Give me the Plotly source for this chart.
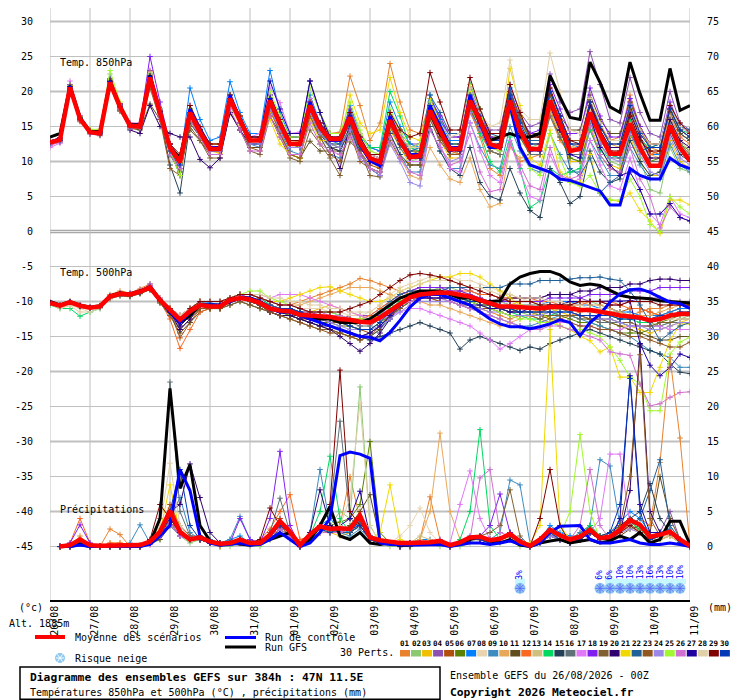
import plotly.graph_objects as go

# GEFS ensemble diagram (Meteociel style), 47N 11.5E, run 26/08/2026 00Z
# one value every 6h from +0h to +384h, precipitation starts at +6h

dates = ["26/08", "27/08", "28/08", "29/08", "30/08", "31/08", "01/09", "02/09", "03/09",
         "04/09", "05/09", "06/09", "07/09", "08/09", "09/09", "10/09", "11/09"]

member_colors = ["#e8822e", "#8cc870", "#f0c000", "#8c50b0", "#b04e0c", "#5a8200", "#0080ff",
                 "#e8d4b0", "#3c8cc0", "#e8a85a", "#604c1c", "#f86820", "#d0c080", "#00d860",
                 "#244058", "#607078", "#e078f8", "#8020f0", "#806030", "#300070", "#f0d800",
                 "#206098", "#905820", "#9c88e8", "#a0f830", "#d070d0", "#2000a0", "#e0d0a8",
                 "#800000", "#0038b8"]

snow_steps = [47, 55, 56, 57, 58, 59, 60, 61, 62, 63]
snow_pct = ["3%", "6%", "6%", "10%", "10%", "13%", "16%", "13%", "10%", "10%"]

# ---- temperature 850 hPa (deg C)
t850_mean = [12.7, 13.1, 20.6, 16.1, 14.2, 14.0, 21.3, 17.8, 15.1, 15.0, 22.0, 16.8,
             12.0, 9.9, 17.0, 14.2, 11.8, 11.8, 19.0, 15.9, 13.0, 13.0, 18.7, 15.4,
             12.5, 12.5, 18.0, 14.9, 13.2, 13.2, 16.3, 12.7, 10.5, 9.9, 15.9, 13.0,
             10.6, 10.8, 17.3, 14.4, 11.8, 11.8, 18.7, 15.9, 12.5, 12.0, 18.7, 14.4,
             11.8, 11.8, 18.7, 15.4, 11.5, 11.8, 17.0, 13.9, 11.1, 11.1, 15.4, 12.0,
             9.4, 9.4, 15.1, 12.0, 10.1]
t850_ctrl = [12.8, 13.2, 20.8, 16.2, 14.2, 14.0, 21.5, 17.8, 15.1, 15.0, 22.2, 17.0,
             12.0, 10.0, 17.5, 14.5, 12.0, 12.0, 19.5, 16.0, 13.0, 13.0, 19.0, 15.5,
             12.5, 12.5, 18.5, 15.0, 13.0, 13.0, 16.5, 12.5, 10.1, 9.4, 16.5, 13.0,
             11.0, 11.0, 18.0, 15.0, 12.0, 12.0, 19.5, 15.5, 12.0, 12.0, 18.0, 12.0,
             9.5, 9.0, 8.5, 7.5, 7.3, 6.8, 6.3, 5.8, 3.8, 3.8, 9.0, 8.0,
             7.5, 7.5, 10.5, 9.5, 9.0]
t850_gfs = [13.5, 14.0, 20.8, 16.3, 14.3, 14.2, 21.5, 17.8, 15.3, 15.2, 22.3, 17.0,
            12.0, 10.5, 17.0, 14.0, 12.0, 12.0, 19.0, 16.0, 13.0, 13.0, 19.0, 15.5,
            12.5, 12.5, 18.0, 15.0, 13.0, 13.0, 16.5, 12.5, 10.5, 10.0, 16.0, 13.0,
            10.5, 11.0, 17.0, 14.0, 12.0, 12.0, 19.0, 16.0, 13.0, 13.5, 14.0, 13.5,
            13.5, 14.0, 22.3, 19.2, 16.3, 16.0, 24.2, 21.3, 17.8, 17.0, 24.2, 19.7,
            15.9, 15.9, 23.3, 17.3, 18.0]

t850_01 = [12.8, 13.3, 20.8, 16.3, 14.0, 14.2, 21.0, 17.5, 15.3, 15.2, 22.5, 17.2,
           12.5, 10.5, 17.5, 14.5, 12.2, 12.0, 19.5, 16.0, 13.5, 13.2, 19.5, 16.0,
           13.0, 12.8, 19.0, 15.5, 14.0, 14.2, 22.2, 18.0, 13.0, 15.5, 24.0, 18.5,
           14.5, 14.0, 18.5, 14.0, 12.0, 11.0, 17.5, 13.5, 9.0, 8.0, 12.5, 10.0,
           10.5, 11.0, 16.5, 13.0, 11.0, 12.0, 17.5, 15.0, 13.0, 13.5, 19.5, 15.0,
           12.0, 11.5, 16.0, 12.5, 11.0]
t850_02 = [12.6, 13.0, 20.5, 16.0, 14.3, 14.6, 22.5, 18.0, 15.0, 14.8, 21.5, 16.5,
           11.5, 8.0, 16.5, 14.0, 11.5, 11.5, 18.5, 15.5, 12.8, 13.0, 18.0, 15.0,
           12.0, 12.0, 17.5, 14.5, 13.5, 13.5, 17.0, 13.0, 10.0, 9.5, 15.0, 12.5,
           10.0, 10.5, 17.0, 14.0, 11.0, 11.5, 19.0, 16.0, 12.5, 12.5, 19.5, 15.0,
           12.0, 12.5, 19.0, 15.5, 10.5, 10.0, 15.5, 12.5, 10.0, 9.5, 14.0, 10.5,
           6.0, 5.5, 12.0, 9.0, 8.5]
t850_03 = [12.9, 13.2, 20.7, 16.2, 14.1, 13.8, 21.2, 17.6, 15.0, 15.0, 21.8, 16.5,
           11.0, 9.0, 16.0, 13.8, 11.5, 11.2, 18.0, 15.2, 12.5, 12.5, 17.0, 14.5,
           11.0, 10.5, 16.5, 14.0, 12.5, 12.5, 15.5, 12.0, 10.0, 9.0, 14.5, 12.0,
           9.5, 9.5, 16.0, 13.0, 10.5, 10.5, 17.5, 14.5, 11.5, 11.0, 17.5, 13.5,
           11.0, 11.0, 17.5, 14.0, 10.0, 10.0, 15.0, 12.0, 9.5, 9.0, 13.5, 10.0,
           8.0, 8.0, 13.0, 10.0, 9.0]
t850_04 = [12.5, 13.0, 20.4, 16.0, 14.0, 14.0, 21.5, 18.0, 15.2, 15.2, 23.0, 17.5,
           12.5, 10.5, 17.5, 14.5, 12.0, 12.0, 19.5, 16.5, 13.5, 13.5, 19.0, 16.0,
           13.0, 13.0, 18.5, 15.5, 14.0, 14.0, 17.5, 14.0, 12.0, 11.5, 17.0, 14.0,
           12.5, 12.5, 19.0, 16.0, 13.5, 13.5, 20.5, 17.0, 14.5, 14.5, 21.0, 17.0,
           15.0, 15.5, 22.5, 18.5, 17.0, 17.5, 25.7, 21.0, 16.0, 15.5, 22.0, 17.0,
           14.0, 13.5, 20.0, 15.5, 14.5]
t850_05 = [12.7, 13.2, 20.5, 16.0, 14.5, 14.0, 21.0, 17.5, 15.0, 15.0, 21.5, 17.0,
           12.5, 10.0, 17.0, 14.5, 12.0, 12.0, 19.0, 16.0, 13.0, 13.0, 18.5, 15.5,
           12.5, 12.5, 17.5, 14.5, 12.0, 11.5, 15.0, 11.5, 9.5, 9.0, 16.5, 14.0,
           11.5, 11.5, 18.0, 15.0, 12.5, 12.5, 18.0, 15.5, 13.0, 13.0, 20.0, 16.5,
           13.0, 13.0, 18.5, 14.5, 12.0, 12.0, 18.0, 14.5, 12.0, 12.0, 17.5, 13.5,
           11.5, 11.0, 17.0, 14.0, 13.0]
t850_06 = [12.6, 13.0, 20.6, 16.2, 14.3, 14.2, 21.6, 18.2, 15.2, 15.1, 22.0, 17.0,
           12.0, 10.5, 17.5, 14.5, 12.5, 12.5, 19.5, 16.5, 13.5, 13.5, 19.0, 15.5,
           12.5, 12.0, 17.5, 14.0, 12.5, 12.0, 16.0, 12.5, 10.0, 10.0, 16.5, 13.5,
           11.0, 11.5, 18.0, 15.0, 12.0, 12.0, 18.0, 15.0, 11.5, 11.0, 18.0, 14.0,
           11.0, 11.0, 17.0, 13.5, 10.5, 10.0, 14.5, 11.0, 9.0, 8.5, 14.0, 11.5,
           10.0, 10.5, 15.0, 12.5, 11.5]
t850_07 = [12.8, 13.1, 20.9, 16.4, 14.2, 14.1, 21.4, 18.0, 15.0, 15.0, 22.5, 17.5,
           12.5, 10.0, 20.5, 16.0, 13.0, 13.5, 21.4, 17.0, 14.0, 14.0, 23.0, 17.0,
           13.5, 13.5, 19.5, 15.5, 13.0, 12.5, 18.0, 14.0, 12.0, 11.5, 18.5, 15.0,
           12.5, 12.0, 19.5, 16.0, 13.0, 13.0, 21.0, 17.0, 13.5, 13.0, 20.5, 16.0,
           13.0, 13.0, 20.0, 16.5, 12.5, 12.0, 18.0, 14.0, 11.0, 10.5, 16.0, 13.0,
           11.0, 11.0, 17.0, 14.0, 13.0]
t850_08 = [12.2, 12.8, 20.0, 15.6, 14.0, 13.6, 20.5, 17.2, 14.6, 14.6, 21.0, 16.0,
           11.5, 9.5, 16.5, 13.8, 11.0, 11.0, 18.5, 15.5, 12.5, 12.5, 18.0, 15.0,
           12.0, 12.0, 17.5, 14.5, 13.0, 13.0, 16.5, 13.0, 11.0, 10.5, 16.0, 13.5,
           11.5, 11.5, 17.5, 14.5, 12.0, 12.0, 19.0, 16.0, 13.0, 12.5, 19.0, 15.0,
           12.5, 12.5, 19.0, 15.5, 12.0, 12.0, 17.5, 14.5, 11.5, 11.5, 16.0, 12.5,
           10.0, 10.0, 16.0, 12.5, 11.0]
t850_09 = [12.6, 13.0, 20.5, 16.0, 14.2, 14.0, 21.0, 17.5, 15.0, 15.2, 22.0, 16.5,
           11.0, 8.5, 16.0, 14.0, 11.5, 11.5, 18.5, 15.5, 12.5, 12.0, 17.5, 14.5,
           11.5, 11.0, 16.0, 13.5, 11.0, 10.5, 14.5, 11.0, 9.0, 8.0, 14.0, 11.0,
           8.5, 8.5, 15.0, 11.5, 9.0, 9.0, 15.5, 12.0, 9.5, 9.0, 15.0, 11.5,
           9.0, 8.5, 14.0, 11.0, 8.5, 8.5, 13.0, 10.5, 8.0, 8.0, 12.0, 9.5,
           7.5, 7.5, 12.5, 9.5, 8.5]
t850_10 = [12.7, 13.2, 20.7, 16.1, 14.2, 14.0, 21.0, 17.5, 15.0, 15.0, 22.0, 17.0,
           12.0, 10.0, 17.0, 14.0, 11.5, 11.5, 18.5, 15.5, 12.5, 12.5, 18.0, 15.0,
           12.0, 12.0, 17.0, 14.5, 13.0, 13.0, 16.0, 12.5, 10.0, 9.5, 12.5, 10.5,
           8.0, 7.5, 12.0, 9.5, 7.5, 7.0, 10.5, 6.0, 3.5, 4.0, 12.0, 10.5,
           11.0, 11.0, 17.0, 14.0, 12.0, 12.5, 18.0, 15.0, 12.5, 12.0, 17.0, 13.5,
           11.0, 10.5, 15.0, 12.0, 11.0]
t850_11 = [12.5, 12.8, 20.2, 15.8, 14.0, 13.8, 20.8, 17.2, 14.8, 14.5, 18.2, 16.0,
           12.5, 10.5, 14.5, 13.0, 11.0, 11.0, 17.0, 14.5, 12.0, 12.0, 16.5, 14.0,
           11.0, 10.5, 12.9, 11.5, 11.5, 11.5, 14.5, 12.0, 11.0, 10.5, 15.5, 13.0,
           11.5, 11.5, 17.0, 14.5, 12.5, 12.5, 19.0, 16.5, 13.5, 13.5, 19.5, 16.0,
           14.0, 14.0, 20.0, 16.5, 14.5, 14.5, 19.5, 16.0, 14.0, 14.0, 18.5, 15.0,
           12.5, 12.5, 17.0, 14.0, 13.0]
t850_12 = [12.9, 13.4, 21.0, 16.5, 14.5, 14.4, 21.8, 18.3, 15.5, 15.4, 22.8, 17.3,
           12.5, 10.5, 17.5, 14.8, 12.5, 12.5, 19.5, 16.5, 13.5, 13.5, 19.5, 16.0,
           13.0, 13.0, 18.5, 15.5, 13.5, 13.5, 17.0, 13.5, 11.0, 10.5, 16.5, 13.5,
           11.0, 11.0, 17.5, 14.5, 11.5, 11.0, 17.0, 14.0, 11.5, 11.0, 17.0, 13.5,
           11.0, 11.0, 17.5, 14.5, 11.5, 12.0, 16.5, 13.0, 11.0, 11.0, 15.5, 12.5,
           11.0, 11.5, 16.5, 13.5, 12.5]
t850_13 = [12.7, 13.1, 20.5, 16.0, 14.1, 13.9, 21.0, 17.8, 15.0, 14.9, 21.5, 16.5,
           12.0, 10.0, 16.5, 14.0, 11.5, 11.5, 18.0, 15.5, 13.0, 13.0, 18.5, 15.5,
           12.5, 12.5, 18.5, 15.5, 13.5, 13.5, 17.5, 14.0, 11.5, 11.0, 17.0, 14.0,
           11.0, 11.0, 17.0, 14.0, 12.0, 12.0, 19.5, 17.0, 13.5, 13.0, 19.5, 16.0,
           13.0, 13.0, 19.5, 16.0, 12.0, 12.0, 17.0, 13.5, 11.0, 11.0, 16.0, 13.0,
           10.5, 10.5, 16.5, 13.0, 11.5]
t850_14 = [12.6, 13.0, 20.6, 16.3, 14.4, 14.2, 21.8, 18.0, 15.2, 15.0, 22.5, 17.0,
           12.0, 10.0, 17.5, 14.5, 12.0, 12.0, 19.0, 16.0, 13.0, 13.0, 19.5, 16.0,
           13.0, 13.0, 19.0, 15.5, 13.5, 13.5, 17.0, 13.5, 12.0, 12.0, 20.0, 16.5,
           12.0, 11.5, 17.5, 14.5, 12.0, 12.0, 18.0, 14.0, 10.0, 8.5, 13.5, 9.0,
           3.4, 4.4, 9.0, 8.0, 8.5, 9.0, 14.5, 11.5, 10.5, 11.0, 16.0, 13.0,
           12.0, 12.5, 17.5, 14.5, 14.0]
t850_15 = [12.5, 12.9, 20.4, 15.9, 14.0, 13.8, 20.9, 17.4, 14.9, 14.8, 21.5, 16.5,
           9.5, 5.5, 15.5, 13.5, 11.0, 11.0, 18.5, 15.5, 12.5, 12.5, 18.0, 15.0,
           12.0, 12.0, 17.0, 14.0, 12.0, 11.5, 15.0, 11.0, 9.0, 8.0, 14.0, 11.0,
           9.5, 9.5, 15.0, 11.5, 9.0, 8.0, 12.0, 7.0, 5.0, 4.5, 9.0, 5.5,
           3.0, 2.0, 9.0, 7.0, 4.0, 5.0, 11.5, 8.5, 7.0, 7.5, 13.0, 10.0,
           8.0, 8.5, 14.0, 11.0, 10.0]
t850_16 = [12.7, 13.1, 20.6, 16.1, 14.2, 14.0, 21.2, 17.8, 15.0, 15.0, 21.8, 16.8,
           11.5, 8.0, 16.5, 14.0, 11.5, 11.5, 19.0, 15.5, 12.5, 12.5, 18.0, 15.0,
           12.0, 12.0, 16.5, 13.5, 12.0, 12.0, 15.0, 11.5, 9.0, 8.5, 15.0, 12.0,
           10.0, 10.0, 16.5, 13.5, 11.0, 11.0, 17.5, 14.5, 11.5, 11.0, 17.0, 13.5,
           11.0, 11.0, 16.5, 13.5, 11.0, 11.0, 15.5, 12.5, 10.5, 10.5, 14.5, 11.5,
           10.0, 10.0, 15.5, 12.5, 11.0]
t850_17 = [12.0, 12.6, 21.5, 16.5, 14.0, 14.0, 21.5, 18.0, 15.5, 15.5, 22.5, 17.0,
           12.0, 10.0, 18.0, 14.5, 12.0, 12.0, 19.5, 16.0, 13.5, 14.0, 20.5, 18.4,
           14.0, 14.2, 19.0, 15.5, 13.5, 13.5, 16.5, 12.5, 10.5, 10.0, 16.0, 13.0,
           10.0, 10.0, 16.5, 12.5, 9.0, 8.5, 15.5, 11.5, 8.0, 7.0, 13.0, 8.5,
           5.0, 4.5, 11.0, 8.0, 7.0, 7.5, 13.0, 9.5, 6.5, 6.0, 10.5, 6.0,
           2.5, 1.0, 5.0, 2.5, 2.0]
t850_18 = [12.9, 13.3, 21.0, 16.5, 14.4, 14.3, 21.8, 18.2, 15.4, 15.4, 25.0, 18.5,
           12.5, 10.5, 17.5, 14.5, 12.0, 12.0, 19.5, 16.5, 13.5, 13.5, 19.5, 16.0,
           13.0, 13.0, 18.5, 15.5, 13.5, 13.5, 17.5, 13.5, 11.0, 10.5, 16.5, 13.5,
           12.0, 12.5, 19.0, 16.5, 13.5, 13.5, 20.0, 17.0, 13.5, 13.0, 20.0, 16.5,
           14.0, 14.5, 21.0, 17.5, 14.0, 14.0, 20.5, 16.5, 13.5, 13.5, 19.0, 15.0,
           12.5, 12.5, 18.5, 15.0, 14.0]
t850_19 = [12.4, 12.8, 20.3, 15.8, 14.0, 13.9, 20.9, 17.3, 14.8, 14.7, 21.0, 16.0,
           11.0, 8.5, 15.0, 13.0, 10.5, 10.5, 17.0, 14.5, 11.5, 11.0, 16.5, 13.5,
           10.5, 10.0, 14.5, 12.5, 10.5, 8.0, 12.8, 11.5, 8.0, 7.8, 13.0, 10.5,
           9.5, 9.5, 16.0, 13.0, 11.0, 11.0, 17.5, 14.5, 12.0, 12.0, 18.5, 15.0,
           12.5, 12.5, 18.5, 15.5, 12.5, 12.5, 18.0, 15.0, 13.0, 13.0, 18.0, 14.5,
           12.0, 12.0, 17.5, 14.5, 13.5]
t850_20 = [12.9, 13.4, 20.8, 16.4, 14.4, 14.3, 21.6, 18.2, 14.5, 14.0, 18.0, 15.0,
           14.0, 13.5, 13.5, 10.3, 9.1, 10.5, 17.0, 14.5, 12.5, 12.5, 18.0, 15.0,
           13.5, 13.5, 21.5, 17.0, 12.5, 9.0, 15.5, 12.0, 10.0, 9.5, 16.0, 13.0,
           11.0, 11.0, 17.5, 14.5, 12.0, 12.0, 18.5, 15.0, 12.5, 12.5, 19.0, 15.0,
           12.0, 12.0, 18.0, 14.5, 11.5, 12.0, 18.0, 14.5, 12.0, 12.0, 17.0, 13.5,
           10.5, 10.5, 16.0, 13.0, 12.0]
t850_21 = [12.8, 13.2, 20.8, 16.2, 14.2, 14.1, 21.4, 17.8, 15.1, 15.1, 22.2, 17.0,
           12.0, 10.0, 17.5, 14.5, 12.0, 12.0, 18.5, 15.5, 13.0, 13.0, 16.0, 12.5,
           11.0, 10.5, 16.0, 13.0, 13.0, 13.0, 19.5, 15.5, 14.0, 14.5, 22.0, 17.0,
           13.5, 13.0, 19.0, 15.5, 12.5, 12.5, 20.0, 15.5, 12.0, 12.0, 23.3, 18.0,
           10.5, 9.5, 14.5, 8.5, 7.5, 7.0, 11.0, 5.5, 4.5, 4.3, 5.5, 3.0,
           1.5, -0.3, 4.5, 4.5, 3.8]
t850_22 = [12.6, 13.0, 20.6, 16.1, 14.2, 14.1, 21.3, 17.8, 15.0, 15.0, 22.0, 17.0,
           11.5, 9.0, 16.5, 14.0, 11.5, 11.5, 18.5, 15.5, 12.5, 12.5, 18.0, 15.0,
           12.0, 12.0, 17.0, 14.5, 12.5, 12.5, 15.5, 12.0, 10.5, 10.0, 16.5, 13.5,
           11.5, 12.0, 19.5, 17.0, 14.0, 14.0, 21.0, 17.5, 14.0, 13.5, 20.0, 16.0,
           13.0, 13.0, 19.5, 15.5, 9.0, 8.0, 10.5, 5.5, 7.0, 8.0, 14.0, 11.5,
           12.0, 12.5, 18.0, 15.0, 14.5]
t850_23 = [12.5, 13.0, 20.3, 15.9, 14.0, 14.0, 21.0, 17.5, 14.9, 14.9, 20.5, 16.0,
           9.0, 8.0, 16.0, 13.5, 11.0, 11.0, 18.5, 15.5, 12.0, 11.5, 17.5, 14.0,
           11.0, 10.5, 16.5, 13.5, 11.0, 10.0, 14.0, 10.0, 9.0, 8.5, 15.5, 13.0,
           10.5, 10.5, 16.5, 13.5, 11.0, 11.0, 18.0, 15.5, 13.0, 13.0, 19.5, 16.5,
           13.5, 13.5, 19.5, 16.0, 13.0, 13.0, 18.5, 15.5, 12.5, 12.5, 17.5, 14.5,
           12.5, 12.5, 17.5, 14.5, 13.5]
t850_24 = [12.4, 12.9, 20.4, 16.0, 14.1, 14.0, 21.1, 17.6, 15.0, 15.0, 21.5, 16.5,
           11.5, 9.5, 16.5, 14.0, 11.5, 11.5, 18.0, 15.5, 12.5, 12.5, 17.5, 14.5,
           12.0, 12.0, 17.0, 14.0, 12.5, 12.0, 14.5, 10.5, 9.0, 8.0, 12.5, 10.0,
           7.0, 6.5, 14.5, 12.0, 10.0, 10.5, 17.0, 14.5, 12.0, 11.5, 18.0, 14.5,
           12.0, 12.0, 18.5, 15.0, 11.5, 11.5, 16.0, 12.5, 10.5, 10.0, 14.0, 11.0,
           8.5, 8.0, 13.5, 10.5, 9.5]
t850_25 = [12.8, 13.2, 20.9, 16.4, 14.6, 14.6, 23.0, 18.5, 15.3, 15.2, 22.5, 17.5,
           11.5, 8.0, 17.5, 14.5, 12.0, 12.0, 19.5, 16.5, 13.5, 13.5, 20.0, 16.5,
           13.5, 13.5, 20.5, 17.0, 14.0, 14.0, 18.5, 14.5, 11.5, 11.0, 17.5, 14.5,
           12.0, 12.5, 18.5, 15.5, 12.5, 12.5, 21.0, 17.5, 12.0, 11.5, 17.0, 12.5,
           9.0, 8.0, 14.0, 10.5, 7.0, 6.5, 8.0, 5.5, 4.5, 4.5, 7.5, 5.0,
           1.0, 0.0, 5.0, 3.5, 2.5]
t850_26 = [12.3, 12.8, 20.2, 15.8, 13.9, 13.8, 20.9, 17.4, 14.8, 14.8, 21.0, 16.2,
           11.0, 9.0, 16.0, 13.5, 11.0, 11.0, 17.5, 14.5, 11.5, 11.5, 16.5, 13.5,
           11.0, 11.0, 15.5, 12.5, 11.5, 11.0, 13.5, 11.0, 9.0, 8.5, 13.5, 10.5,
           8.5, 8.0, 14.5, 12.0, 9.5, 10.0, 14.0, 8.5, 5.7, 6.0, 12.5, 9.5,
           6.5, 6.0, 12.0, 8.0, 7.5, 8.0, 15.0, 11.0, 9.0, 8.5, 12.0, 7.5,
           5.0, 0.5, 3.5, 2.0, 1.5]
t850_27 = [12.7, 13.2, 20.7, 16.2, 14.3, 14.1, 21.4, 17.9, 15.1, 15.1, 22.2, 17.1,
           12.0, 10.5, 17.0, 14.5, 12.0, 12.0, 19.0, 16.0, 13.5, 13.5, 21.5, 17.5,
           14.0, 14.0, 21.5, 17.0, 13.5, 13.0, 16.5, 12.5, 10.0, 9.5, 15.5, 12.5,
           10.5, 10.5, 17.0, 14.0, 11.5, 11.5, 18.5, 15.5, 12.0, 12.0, 18.5, 14.0,
           11.5, 11.5, 18.0, 14.5, 11.0, 10.5, 16.5, 12.0, 9.5, 8.0, 8.5, 6.0,
           2.5, 2.5, 4.0, 2.0, 1.5]
t850_28 = [12.6, 13.1, 20.6, 16.1, 14.2, 14.1, 21.3, 17.7, 15.0, 15.0, 22.0, 17.0,
           12.0, 10.0, 17.0, 14.0, 12.0, 12.0, 19.0, 16.0, 13.0, 13.0, 19.0, 15.5,
           12.5, 12.5, 18.5, 15.0, 13.0, 13.0, 16.5, 13.0, 11.0, 10.5, 16.5, 13.5,
           12.0, 12.0, 18.0, 15.5, 13.5, 14.0, 20.5, 17.0, 15.0, 15.5, 24.5, 17.5,
           16.0, 16.0, 25.5, 20.0, 14.5, 14.0, 19.0, 15.5, 13.0, 13.0, 18.0, 14.5,
           12.5, 12.5, 18.0, 15.0, 14.0]
t850_29 = [12.8, 13.2, 20.7, 16.2, 14.3, 14.1, 21.4, 17.9, 15.2, 15.2, 22.2, 17.2,
           12.5, 11.0, 18.0, 15.0, 12.5, 12.5, 19.5, 16.5, 13.5, 13.5, 19.0, 16.0,
           13.0, 13.0, 18.5, 15.5, 13.5, 13.5, 17.0, 13.5, 11.0, 11.0, 17.0, 14.5,
           13.5, 14.0, 22.7, 18.5, 14.5, 14.5, 22.0, 17.5, 14.0, 14.0, 21.0, 17.0,
           13.5, 13.5, 20.5, 16.5, 13.0, 12.5, 18.5, 14.5, 11.5, 11.5, 16.5, 13.0,
           11.5, 11.5, 18.0, 15.5, 14.0]
t850_30 = [12.6, 13.0, 20.5, 16.0, 14.2, 14.0, 21.2, 17.7, 15.0, 15.0, 22.0, 17.0,
           11.5, 9.5, 17.0, 14.5, 12.0, 12.0, 19.0, 16.0, 13.0, 13.0, 19.0, 15.5,
           12.5, 12.5, 18.0, 15.0, 13.0, 13.0, 16.5, 13.0, 10.5, 10.0, 16.0, 13.0,
           11.0, 11.0, 18.0, 15.5, 12.5, 12.5, 19.5, 16.5, 13.0, 13.0, 19.5, 15.5,
           12.5, 12.5, 20.0, 16.5, 12.5, 12.5, 18.5, 15.0, 12.5, 12.5, 18.0, 14.0,
           12.0, 12.0, 17.5, 14.5, 13.5]

# ---- temperature 500 hPa (deg C)
t500_mean = [-10.2, -10.6, -10.1, -10.6, -10.9, -10.7, -9.3, -8.9, -9.0, -8.6, -8.0, -9.8,
             -11.2, -12.6, -11.4, -10.5, -10.7, -10.7, -9.8, -9.5, -9.7, -10.2, -11.0, -11.3,
             -11.4, -11.9, -12.0, -12.1, -12.2, -12.5, -12.6, -12.9, -13.0, -12.3, -11.3, -10.3,
             -9.4, -9.0, -8.8, -8.7, -8.8, -9.0, -9.3, -9.8, -10.3, -10.7, -10.7, -10.8,
             -11.0, -11.0, -10.8, -10.8, -11.0, -11.2, -11.2, -11.4, -11.7, -12.0, -12.2, -12.3,
             -12.7, -12.5, -12.0, -11.8, -11.8]
t500_ctrl = [-10.2, -10.6, -10.1, -10.6, -10.9, -10.7, -9.3, -8.9, -9.0, -8.6, -8.0, -9.8,
             -11.5, -13.0, -11.5, -10.5, -10.5, -10.5, -10.0, -9.5, -9.5, -10.0, -11.0, -11.5,
             -11.5, -12.0, -12.5, -13.0, -13.5, -14.0, -14.5, -15.0, -15.1, -15.6, -14.4, -12.7,
             -10.8, -9.5, -9.0, -9.0, -9.5, -10.0, -10.5, -11.5, -12.5, -13.2, -13.6, -13.6,
             -13.9, -13.6, -13.2, -12.6, -13.0, -14.9, -13.0, -11.8, -10.1, -8.9, -8.3, -8.2,
             -8.7, -9.4, -10.1, -10.3, -11.0]
t500_gfs = [-10.0, -10.5, -10.0, -10.5, -10.8, -10.6, -9.2, -8.8, -8.9, -8.5, -7.9, -9.7,
            -11.5, -13.0, -12.0, -10.5, -10.5, -10.5, -10.0, -9.5, -9.5, -10.0, -11.0, -11.5,
            -11.5, -12.0, -12.5, -12.5, -12.5, -13.0, -13.0, -13.0, -12.5, -11.5, -10.5, -9.5,
            -9.0, -8.5, -8.5, -8.5, -9.0, -9.5, -9.5, -10.0, -10.0, -9.9, -7.5, -6.5,
            -6.0, -5.7, -5.7, -6.2, -7.2, -7.7, -7.5, -7.7, -8.4, -9.1, -9.4, -9.5,
            -9.6, -9.9, -10.0, -10.1, -10.2]

t500_01 = [-10.3, -10.5, -10.0, -10.5, -10.8, -10.6, -9.0, -8.5, -8.8, -8.2, -7.5, -9.5,
           -11.0, -12.5, -11.0, -10.0, -10.0, -10.0, -9.5, -9.0, -9.0, -9.5, -10.0, -10.5,
           -10.5, -10.0, -9.5, -9.0, -8.5, -8.0, -7.5, -6.7, -7.0, -7.5, -8.0, -8.5,
           -9.0, -9.0, -9.5, -10.0, -10.0, -10.5, -11.0, -11.0, -11.5, -12.0, -12.5, -12.0,
           -12.0, -12.5, -13.0, -12.5, -12.0, -11.5, -11.0, -11.5, -12.0, -12.5, -12.0, -11.5,
           -11.0, -11.0, -10.5, -10.5, -10.5]
t500_02 = [-10.1, -10.7, -10.2, -10.8, -11.0, -10.8, -9.5, -9.0, -9.2, -8.8, -8.3, -10.0,
           -11.5, -13.0, -12.0, -11.0, -11.0, -11.0, -10.0, -9.5, -9.5, -10.0, -11.0, -11.5,
           -11.5, -12.0, -12.5, -12.5, -12.5, -13.0, -13.5, -14.0, -14.0, -13.0, -11.5, -10.0,
           -9.0, -8.5, -8.5, -8.0, -8.0, -8.5, -9.0, -9.5, -10.0, -10.5, -11.0, -11.5,
           -12.0, -12.0, -11.5, -11.0, -10.5, -10.0, -10.0, -10.5, -11.0, -11.5, -12.0, -12.5,
           -13.0, -13.5, -13.0, -12.5, -12.0]
t500_03 = [-10.2, -10.6, -10.0, -10.5, -10.9, -10.6, -9.2, -8.8, -8.9, -8.5, -7.8, -9.6,
           -11.0, -12.0, -11.0, -10.0, -10.5, -10.5, -9.5, -9.0, -9.5, -10.0, -10.5, -11.0,
           -11.0, -11.5, -11.5, -11.0, -10.5, -11.0, -11.5, -12.0, -12.5, -12.0, -11.0, -10.0,
           -9.5, -9.0, -9.0, -9.0, -9.0, -9.5, -10.0, -10.5, -11.0, -11.0, -10.5, -10.0,
           -10.0, -10.5, -11.0, -11.5, -12.0, -12.5, -12.5, -13.0, -13.0, -13.5, -13.5, -14.0,
           -14.5, -14.0, -13.5, -13.0, -12.5]
t500_04 = [-10.3, -10.7, -10.2, -10.7, -11.0, -10.8, -9.4, -9.0, -9.0, -8.6, -7.5, -9.5,
           -11.0, -12.5, -11.0, -10.0, -10.5, -10.5, -9.5, -9.0, -9.0, -9.5, -10.5, -11.0,
           -11.0, -11.5, -12.0, -12.0, -12.0, -12.5, -12.0, -12.0, -12.0, -11.0, -10.0, -9.0,
           -8.5, -8.0, -8.0, -8.0, -8.0, -8.0, -8.5, -9.0, -9.0, -9.5, -9.5, -9.5,
           -9.5, -9.5, -9.0, -9.0, -9.0, -9.5, -10.0, -10.0, -10.5, -10.5, -10.0, -9.5,
           -9.5, -9.5, -10.0, -10.0, -10.0]
t500_05 = [-10.2, -10.5, -10.1, -10.6, -10.8, -10.7, -9.2, -8.8, -9.0, -8.7, -8.2, -10.0,
           -11.5, -15.2, -13.0, -11.0, -11.0, -11.0, -10.0, -9.5, -10.0, -10.5, -11.0, -11.5,
           -12.0, -12.5, -12.5, -12.5, -13.0, -13.0, -13.5, -14.0, -14.5, -13.5, -12.0, -10.5,
           -9.5, -9.0, -9.0, -9.0, -9.5, -9.5, -10.0, -10.0, -10.5, -11.0, -11.5, -11.0,
           -11.0, -11.0, -10.5, -10.5, -10.5, -11.0, -11.0, -11.5, -11.5, -11.5, -11.0, -11.0,
           -11.5, -12.0, -11.5, -11.0, -11.0]
t500_06 = [-10.1, -10.6, -10.2, -10.5, -10.8, -10.6, -9.4, -9.0, -9.1, -8.7, -8.2, -9.8,
           -11.0, -12.5, -11.5, -10.5, -10.5, -10.5, -10.0, -9.5, -10.0, -10.5, -11.0, -11.5,
           -12.0, -12.0, -12.5, -13.0, -13.0, -13.5, -13.5, -14.0, -14.0, -13.0, -12.0, -11.0,
           -10.0, -9.5, -9.5, -9.5, -9.5, -10.0, -10.0, -10.5, -10.5, -11.0, -11.0, -11.5,
           -11.5, -12.0, -12.0, -12.0, -12.5, -13.0, -13.0, -13.5, -14.0, -14.5, -14.5, -14.5,
           -14.0, -13.0, -12.5, -12.0, -11.5]
t500_07 = [-10.2, -10.6, -10.0, -10.6, -10.9, -10.7, -9.3, -8.9, -9.0, -8.5, -7.8, -9.6,
           -11.0, -12.0, -11.0, -10.2, -10.2, -10.5, -9.5, -9.0, -9.0, -9.5, -10.0, -10.5,
           -10.5, -11.0, -11.5, -11.5, -11.5, -12.0, -12.5, -12.5, -12.5, -11.5, -10.5, -9.5,
           -9.0, -8.5, -8.5, -8.5, -8.5, -9.0, -9.0, -9.5, -10.0, -10.0, -10.5, -10.5,
           -10.5, -10.5, -10.0, -10.0, -10.0, -10.5, -10.5, -11.0, -11.0, -11.5, -11.5, -12.0,
           -12.0, -12.0, -11.5, -11.0, -11.0]
t500_08 = [-10.4, -10.9, -10.5, -11.0, -11.5, -11.0, -9.5, -9.0, -9.0, -8.7, -8.0, -9.5,
           -11.0, -12.0, -11.0, -10.0, -10.5, -10.5, -9.5, -9.0, -9.0, -9.5, -10.0, -10.5,
           -10.5, -11.0, -11.0, -11.0, -11.5, -11.5, -12.0, -12.0, -11.5, -10.5, -9.0, -8.0,
           -7.5, -7.0, -6.5, -6.5, -6.5, -7.0, -7.0, -7.5, -8.0, -8.5, -9.0, -9.5,
           -10.0, -10.0, -10.5, -10.5, -11.0, -11.0, -11.5, -11.5, -12.0, -12.0, -12.5, -12.5,
           -12.5, -12.0, -12.0, -11.5, -11.5]
t500_09 = [-10.2, -10.6, -10.1, -10.5, -10.8, -10.7, -9.3, -8.9, -9.0, -8.6, -8.0, -9.8,
           -11.5, -13.0, -12.0, -10.5, -10.5, -10.5, -10.0, -9.5, -9.5, -10.0, -11.0, -11.5,
           -11.5, -12.0, -12.5, -13.0, -13.5, -14.0, -14.5, -15.0, -15.0, -14.0, -12.5, -11.0,
           -10.0, -9.5, -9.5, -9.5, -10.0, -10.5, -11.0, -11.5, -12.0, -12.5, -13.0, -13.5,
           -13.5, -13.0, -12.5, -12.0, -12.0, -12.5, -13.0, -13.5, -14.0, -14.5, -15.0, -16.0,
           -17.0, -17.5, -18.0, -19.4, -19.4]
t500_10 = [-10.1, -10.5, -10.0, -10.5, -10.8, -10.6, -9.2, -8.8, -8.9, -8.5, -8.0, -9.6,
           -11.0, -12.5, -11.5, -10.5, -10.5, -10.5, -9.5, -9.0, -9.0, -9.5, -10.0, -10.5,
           -10.5, -10.5, -10.0, -9.5, -9.0, -8.5, -8.0, -8.0, -8.0, -8.5, -9.0, -9.5,
           -10.0, -10.0, -10.5, -10.5, -11.0, -11.5, -12.0, -12.5, -13.0, -13.5, -13.0, -12.5,
           -12.0, -11.5, -11.0, -10.5, -10.0, -10.0, -10.5, -10.5, -11.0, -11.5, -12.0, -12.0,
           -12.0, -11.5, -11.0, -10.5, -10.5]
t500_11 = [-10.3, -10.7, -10.2, -10.7, -11.0, -10.9, -9.6, -9.2, -9.3, -8.9, -8.3, -10.2,
           -12.0, -14.5, -13.0, -11.5, -11.0, -11.0, -10.5, -10.0, -10.5, -11.0, -11.5, -12.0,
           -12.0, -12.5, -13.0, -13.5, -14.0, -14.5, -15.0, -15.5, -15.0, -14.0, -12.0, -10.5,
           -9.5, -9.0, -9.0, -9.0, -9.0, -9.5, -10.0, -10.5, -10.5, -11.0, -11.5, -11.5,
           -11.5, -11.5, -11.0, -11.0, -11.5, -12.0, -12.5, -12.5, -13.0, -13.5, -14.0, -14.5,
           -15.0, -15.5, -15.5, -15.0, -15.0]
t500_12 = [-10.2, -10.5, -10.1, -10.6, -10.9, -10.7, -9.3, -8.9, -8.9, -8.5, -8.0, -10.0,
           -12.5, -16.7, -14.0, -11.5, -11.0, -11.0, -10.0, -9.5, -9.5, -10.0, -10.5, -11.0,
           -11.0, -11.5, -12.0, -12.0, -12.0, -12.0, -12.5, -12.5, -12.0, -11.0, -10.0, -9.0,
           -8.5, -8.5, -8.5, -8.5, -8.5, -8.5, -8.5, -9.0, -9.0, -9.5, -9.5, -9.5,
           -9.5, -10.0, -10.0, -10.5, -10.5, -10.5, -10.0, -10.0, -10.0, -10.5, -11.0, -11.0,
           -11.5, -12.0, -12.0, -11.5, -11.5]
t500_13 = [-10.3, -10.6, -10.2, -10.5, -10.8, -10.6, -9.3, -8.8, -8.9, -8.6, -8.1, -9.8,
           -11.0, -12.5, -11.5, -10.5, -10.5, -10.5, -9.5, -9.0, -9.5, -10.0, -10.5, -11.0,
           -11.0, -11.5, -12.0, -12.0, -12.5, -12.5, -13.0, -13.0, -13.0, -12.0, -11.0, -10.0,
           -9.0, -9.0, -8.5, -8.5, -8.5, -9.0, -9.0, -9.5, -10.0, -10.0, -10.5, -10.5,
           -10.5, -10.5, -10.5, -11.0, -11.0, -11.0, -11.5, -11.5, -11.5, -12.0, -12.0, -12.5,
           -12.5, -12.0, -12.0, -12.0, -12.0]
t500_14 = [-10.5, -11.0, -11.0, -12.1, -11.5, -11.0, -9.5, -9.0, -9.0, -8.6, -8.0, -9.8,
           -11.0, -12.5, -11.5, -10.5, -10.5, -10.5, -9.5, -9.0, -9.0, -9.5, -10.5, -11.0,
           -11.0, -11.5, -12.0, -12.0, -12.0, -12.5, -12.5, -13.0, -13.0, -12.5, -11.0, -10.0,
           -9.5, -9.0, -9.0, -9.0, -9.0, -9.5, -10.0, -10.0, -10.5, -11.0, -11.5, -12.0,
           -12.5, -12.5, -12.0, -11.5, -11.5, -11.0, -11.0, -11.5, -12.0, -12.5, -12.5, -13.0,
           -13.0, -12.5, -12.0, -12.0, -12.0]
t500_15 = [-10.2, -10.6, -10.1, -10.6, -10.9, -10.7, -9.3, -8.9, -9.0, -8.6, -8.0, -10.0,
           -11.5, -13.0, -12.0, -11.0, -11.0, -11.0, -10.0, -9.5, -10.0, -10.5, -11.5, -12.0,
           -12.0, -12.5, -13.0, -13.5, -13.5, -14.0, -14.5, -15.0, -15.5, -15.0, -14.5, -14.0,
           -13.5, -13.0, -13.5, -14.0, -14.5, -16.8, -15.5, -15.0, -15.5, -16.0, -16.5, -17.0,
           -16.5, -16.8, -16.0, -15.5, -15.0, -14.5, -14.0, -14.5, -15.0, -15.5, -16.0, -16.5,
           -17.0, -17.5, -18.9, -20.1, -20.3]
t500_16 = [-10.2, -10.6, -10.1, -10.6, -10.9, -10.7, -9.3, -8.8, -8.9, -8.4, -7.8, -9.5,
           -11.0, -12.0, -11.0, -10.0, -10.5, -10.5, -9.5, -9.5, -9.5, -10.0, -11.0, -11.5,
           -11.5, -12.0, -12.0, -12.5, -12.5, -13.0, -13.0, -13.5, -13.5, -12.5, -11.5, -10.5,
           -10.0, -9.5, -9.5, -9.5, -9.5, -10.0, -10.0, -10.5, -11.0, -11.0, -11.5, -11.5,
           -11.5, -11.5, -11.5, -12.0, -12.0, -12.5, -12.5, -13.0, -13.0, -13.0, -13.5, -13.5,
           -13.5, -13.5, -13.0, -13.0, -13.0]
t500_17 = [-10.1, -10.5, -10.1, -10.5, -10.8, -10.6, -9.2, -8.8, -8.8, -8.4, -7.8, -9.6,
           -11.0, -12.0, -11.0, -10.0, -10.0, -10.0, -9.5, -9.0, -9.0, -9.0, -9.5, -9.0,
           -9.0, -9.0, -9.5, -10.0, -10.5, -11.0, -11.5, -12.0, -12.5, -12.5, -12.0, -11.5,
           -11.0, -11.0, -11.5, -12.0, -12.5, -13.0, -13.5, -14.5, -15.5, -16.8, -16.0, -15.0,
           -14.0, -13.5, -13.0, -13.0, -13.0, -13.5, -13.5, -14.0, -14.0, -14.0, -13.5, -13.5,
           -13.5, -13.5, -14.0, -14.0, -14.0]
t500_18 = [-10.3, -10.7, -10.2, -10.7, -11.0, -10.8, -9.4, -9.0, -9.0, -8.5, -7.8, -9.8,
           -11.5, -13.0, -11.5, -10.5, -10.5, -10.5, -9.5, -9.0, -9.5, -10.0, -10.5, -11.0,
           -11.0, -11.5, -11.5, -12.0, -12.0, -12.5, -12.5, -13.0, -13.0, -12.0, -10.5, -9.0,
           -8.5, -8.0, -8.0, -8.0, -8.5, -8.5, -9.0, -9.5, -10.0, -10.0, -10.0, -10.0,
           -10.0, -10.0, -9.5, -9.5, -9.5, -9.5, -9.0, -9.0, -9.0, -9.0, -8.5, -8.5,
           -8.5, -8.0, -8.0, -8.0, -8.0]
t500_19 = [-10.3, -10.6, -10.2, -10.6, -10.8, -10.7, -9.5, -9.0, -9.2, -8.8, -8.3, -10.2,
           -12.0, -14.0, -12.5, -11.0, -11.0, -11.0, -10.5, -10.0, -10.5, -11.0, -11.5, -12.0,
           -12.5, -13.0, -13.5, -14.0, -14.0, -14.5, -15.0, -15.0, -14.5, -13.5, -12.0, -11.0,
           -10.0, -9.5, -9.5, -9.5, -9.5, -10.0, -10.5, -11.0, -11.0, -11.5, -12.0, -12.0,
           -12.0, -12.5, -12.0, -12.0, -12.0, -12.0, -12.5, -12.5, -12.5, -13.0, -13.0, -13.5,
           -13.5, -13.0, -13.0, -12.5, -12.5]
t500_20 = [-10.2, -10.6, -10.1, -10.6, -10.9, -10.7, -9.3, -8.9, -9.0, -8.6, -8.0, -9.8,
           -11.5, -14.0, -12.5, -10.5, -10.5, -10.5, -10.0, -9.5, -10.0, -10.5, -11.5, -12.0,
           -12.0, -12.5, -13.0, -13.5, -14.0, -15.0, -16.0, -17.1, -16.0, -14.5, -12.5, -10.5,
           -9.5, -9.0, -9.0, -9.0, -9.0, -9.5, -9.5, -10.0, -10.0, -10.0, -9.5, -9.5,
           -9.5, -9.5, -9.0, -9.0, -9.0, -8.5, -8.5, -8.0, -8.0, -8.0, -7.5, -7.5,
           -7.0, -6.8, -6.8, -7.0, -7.0]
t500_21 = [-10.2, -10.6, -10.1, -10.6, -10.9, -10.7, -9.3, -8.9, -9.0, -8.6, -8.0, -9.8,
           -11.0, -12.0, -11.0, -10.0, -10.0, -10.0, -9.5, -9.0, -9.0, -9.5, -10.0, -10.0,
           -9.5, -9.0, -8.5, -8.0, -7.9, -8.5, -9.0, -9.5, -10.0, -10.0, -9.5, -8.5,
           -8.0, -7.5, -7.0, -6.5, -6.5, -6.0, -6.0, -6.5, -7.5, -8.5, -9.5, -10.5,
           -11.0, -11.5, -12.5, -13.5, -14.0, -15.0, -15.6, -17.2, -16.5, -20.8, -20.8, -23.0,
           -23.0, -19.4, -15.6, -13.2, -13.2]
t500_22 = [-10.2, -10.6, -10.1, -10.6, -10.9, -10.7, -9.3, -8.9, -9.0, -8.6, -8.0, -9.8,
           -11.0, -12.5, -11.5, -10.5, -10.5, -10.5, -9.5, -9.5, -9.5, -10.0, -10.5, -11.0,
           -11.0, -11.5, -12.0, -12.0, -12.0, -12.5, -13.0, -13.0, -12.5, -11.5, -10.0, -9.0,
           -8.5, -8.5, -8.5, -8.5, -8.0, -8.0, -8.0, -8.0, -8.0, -8.0, -7.5, -7.5,
           -7.5, -7.0, -7.0, -7.0, -6.8, -6.6, -6.6, -6.5, -6.8, -7.0, -8.5, -10.5,
           -13.0, -15.6, -14.5, -13.5, -13.0]
t500_23 = [-10.3, -10.7, -10.2, -10.7, -11.0, -10.8, -9.5, -9.0, -9.2, -8.8, -8.3, -10.0,
           -11.5, -13.5, -12.0, -11.0, -11.0, -11.0, -10.0, -9.5, -10.0, -10.5, -11.5, -12.0,
           -12.5, -13.0, -13.5, -14.0, -14.5, -14.5, -15.0, -15.5, -15.0, -13.5, -12.0, -11.0,
           -10.0, -9.5, -9.5, -10.0, -10.0, -10.5, -10.5, -11.0, -11.0, -11.5, -12.0, -12.0,
           -12.0, -12.0, -12.5, -12.5, -13.0, -13.5, -13.5, -14.0, -14.0, -14.5, -15.0, -15.0,
           -15.5, -16.0, -16.5, -16.5, -15.8]
t500_24 = [-10.2, -10.6, -10.1, -10.6, -10.9, -10.7, -9.3, -8.9, -9.0, -8.6, -8.0, -9.8,
           -11.5, -12.5, -11.5, -10.5, -10.5, -10.5, -10.0, -9.5, -9.5, -10.0, -11.0, -11.5,
           -11.5, -12.0, -12.5, -12.5, -13.0, -13.5, -14.0, -14.0, -14.0, -13.5, -12.5, -11.5,
           -10.5, -10.0, -10.0, -10.0, -10.0, -10.5, -11.0, -11.0, -11.5, -11.5, -12.0, -12.0,
           -12.0, -12.0, -11.5, -11.5, -11.5, -12.0, -12.0, -12.5, -12.5, -13.0, -13.5, -13.5,
           -14.0, -14.0, -13.5, -13.0, -13.0]
t500_25 = [-10.2, -10.6, -10.1, -10.6, -10.9, -10.7, -9.3, -8.9, -9.0, -8.6, -8.0, -9.8,
           -11.0, -12.5, -11.0, -10.0, -10.0, -10.0, -9.5, -9.0, -8.5, -8.5, -9.5, -10.0,
           -10.5, -11.0, -11.5, -11.5, -11.5, -12.0, -12.5, -12.5, -12.5, -11.5, -10.5, -9.5,
           -9.0, -8.5, -8.5, -8.5, -9.0, -9.5, -10.0, -10.5, -11.0, -11.5, -12.0, -12.5,
           -12.5, -13.0, -13.0, -13.5, -14.0, -14.0, -14.5, -15.0, -16.5, -18.4, -20.8, -21.8,
           -25.6, -25.6, -17.5, -15.8, -15.1]
t500_26 = [-10.1, -10.5, -10.0, -10.5, -10.8, -10.6, -9.2, -8.8, -8.8, -8.4, -7.8, -9.6,
           -11.0, -12.0, -11.0, -10.0, -10.0, -10.0, -9.5, -9.0, -9.0, -9.5, -10.0, -10.5,
           -10.5, -11.0, -11.5, -11.5, -12.0, -12.0, -12.5, -13.0, -13.0, -12.5, -11.5, -10.5,
           -10.0, -9.5, -9.5, -9.5, -10.0, -10.5, -11.0, -11.5, -12.0, -12.5, -13.0, -13.5,
           -14.0, -14.0, -13.5, -13.5, -14.0, -14.5, -15.0, -15.5, -17.2, -17.5, -17.7, -21.8,
           -24.9, -24.6, -23.7, -23.0, -22.9]
t500_27 = [-10.2, -10.6, -10.1, -10.6, -10.9, -10.7, -9.3, -8.9, -9.0, -8.6, -8.0, -9.8,
           -11.5, -13.5, -12.0, -10.5, -10.5, -10.5, -10.0, -9.5, -9.5, -10.0, -11.0, -11.5,
           -11.5, -12.0, -12.5, -13.0, -13.5, -14.0, -14.5, -15.0, -14.5, -13.5, -12.0, -10.5,
           -9.5, -9.5, -9.5, -9.5, -9.5, -10.0, -10.5, -10.5, -11.0, -11.0, -11.5, -11.5,
           -11.0, -11.0, -10.5, -10.5, -10.0, -10.0, -10.0, -10.0, -10.0, -10.0, -9.9, -16.0,
           -19.1, -20.6, -19.4, -17.5, -18.0]
t500_28 = [-10.4, -11.0, -10.6, -11.5, -11.5, -11.0, -9.5, -9.0, -9.0, -8.5, -8.0, -9.5,
           -11.0, -12.0, -11.0, -10.0, -10.0, -10.0, -9.5, -9.0, -9.0, -9.0, -9.5, -9.5,
           -10.0, -10.0, -10.5, -10.5, -11.0, -11.0, -11.5, -11.5, -11.5, -10.5, -9.5, -8.5,
           -8.0, -7.5, -7.0, -7.0, -7.0, -7.5, -8.0, -8.0, -8.5, -9.0, -9.0, -9.5,
           -9.5, -9.5, -10.0, -10.0, -10.5, -10.5, -11.0, -11.0, -11.5, -12.0, -12.0, -12.5,
           -12.5, -12.5, -12.5, -12.5, -12.5]
t500_29 = [-10.2, -10.6, -10.1, -10.6, -10.9, -10.7, -9.3, -8.9, -9.0, -8.6, -8.0, -9.8,
           -11.0, -12.5, -11.0, -10.0, -10.0, -10.0, -9.5, -9.0, -9.0, -9.5, -10.0, -10.5,
           -10.5, -11.0, -11.5, -11.5, -11.5, -11.5, -11.0, -10.5, -10.0, -9.0, -8.0, -7.0,
           -6.2, -6.0, -6.2, -6.5, -7.0, -7.5, -8.0, -8.5, -9.0, -9.5, -10.0, -10.0,
           -10.0, -10.5, -10.5, -10.5, -10.5, -10.0, -10.0, -10.0, -10.5, -10.5, -10.0, -10.0,
           -10.0, -10.5, -10.5, -10.5, -10.5]
t500_30 = [-10.2, -10.6, -10.1, -10.6, -10.9, -10.7, -9.3, -8.9, -9.0, -8.6, -8.0, -9.8,
           -11.5, -13.0, -11.5, -10.5, -10.5, -10.5, -10.0, -9.5, -9.5, -10.0, -11.0, -11.0,
           -11.0, -11.5, -12.0, -12.5, -12.5, -13.0, -13.5, -14.0, -14.0, -13.0, -11.5, -10.5,
           -9.5, -9.0, -9.0, -9.0, -9.0, -9.5, -10.0, -10.0, -10.5, -11.0, -11.0, -11.5,
           -11.5, -11.5, -11.5, -11.5, -11.5, -12.0, -12.0, -12.0, -12.0, -12.5, -12.5, -12.5,
           -12.5, -12.0, -12.0, -11.5, -11.5]

# ---- precipitation (mm per 6h), +6h .. +384h
rr_mean = [0, 0.2, 1.0, 0.2, 0.1, 0.1, 0.1, 0.1, 0.2, 0.7,
           2.1, 5.1, 2.1, 1.0, 1.3, 0.7, 0.4, 0.5, 1.0, 0.5,
           0.5, 1.7, 3.6, 2.1, 0.2, 1.7, 2.9, 2.5, 2.6, 2.5,
           4.4, 1.3, 0.9, 0.7, 0.5, 0.5, 0.5, 0.6, 0.8, 0.2,
           0.6, 1.3, 1.4, 0.9, 1.1, 1.8, 0.7, 0.1, 1.0, 2.4,
           1.6, 1.0, 1.4, 2.4, 1.2, 1.4, 2.4, 3.8, 3.1, 1.4,
           1.7, 2.1, 1.0, 0.1]
rr_ctrl = [0, 0, 0.2, 0, 0, 0, 0, 0, 0, 0.3,
           1.5, 3.0, 11.0, 8.0, 1.5, 0.5, 0.2, 0.3, 0.5, 0.2,
           0.3, 1.0, 2.0, 1.0, 0, 0.5, 2.0, 4.0, 13.0, 13.5,
           13.2, 12.6, 0.5, 0.3, 0.2, 0.2, 0.2, 0.3, 0.3, 0,
           0.2, 0.5, 0.5, 0.3, 0.5, 0.8, 0.3, 0, 0.5, 2.0,
           2.9, 2.9, 3.0, 1.0, 0.5, 0.5, 0.8, 1.0, 0.5, 0.3,
           0.3, 0.5, 0.3, 0]
rr_gfs = [0, 0, 0.3, 0, 0, 0, 0, 0, 0, 0.5,
          4.0, 22.6, 8.3, 11.7, 3.0, 0.8, 0.2, 0.5, 0.3, 0.2,
          0.5, 1.0, 1.5, 2.0, 0.2, 1.0, 3.0, 5.7, 1.5, 1.0,
          2.0, 0.5, 0.3, 0.5, 0.2, 0.2, 0.3, 0.5, 0.5, 0.1,
          0.3, 1.0, 1.5, 0.8, 0.5, 1.0, 0.2, 0, 0.5, 0.8,
          1.0, 0.5, 0.8, 1.0, 0.5, 0.8, 1.5, 1.0, 2.0, 0.5,
          1.0, 3.6, 3.6, 0.3]

rr_01 = [0, 0, 1.5, 0, 0, 2.5, 1.7, 0, 0, 0.5, 1.5, 4.0, 2.0, 1.0, 1.0, 0.5, 0, 0.5, 1.0, 0.3,
         0.5, 2.0, 3.0, 1.5, 0, 1.0, 2.0, 2.5, 3.0, 10.0, 4.0, 1.0, 0.5, 0.5, 0, 0.5, 1.0, 7.1, 1.0, 0,
         0.5, 1.0, 1.0, 0.5, 1.0, 1.5, 0.5, 0, 1.0, 2.0, 1.0, 0.5, 1.0, 2.0, 1.0, 1.0, 2.0, 3.0, 4.0, 3.0,
         12.0, 27.0, 15.5, 0]
rr_02 = [0, 0, 0.5, 0, 0, 0, 0, 0, 0, 0.3, 1.0, 3.0, 1.5, 0.5, 1.0, 0.5, 0, 0, 0.5, 0,
         0, 1.0, 2.5, 1.0, 0, 1.0, 2.5, 3.0, 5.0, 4.0, 22.8, 3.0, 0.5, 0, 0, 0, 0.5, 0.5, 0, 0,
         0, 0.5, 1.5, 1.0, 0.5, 1.0, 0, 0, 0.5, 1.5, 1.0, 0.5, 1.5, 2.5, 1.0, 1.5, 3.0, 4.0, 2.0, 1.0,
         1.5, 2.0, 0.5, 0]
rr_03 = [0, 0.3, 1.0, 0.3, 0, 0, 0, 0, 0.2, 1.0, 2.5, 5.5, 2.0, 1.0, 1.5, 1.0, 0.5, 0.5, 1.0, 0.5,
         0.5, 1.5, 3.0, 2.0, 0, 1.5, 3.0, 2.0, 1.5, 2.0, 3.0, 1.0, 0.5, 0.5, 0.5, 0.5, 0.5, 0.5, 0.5, 0,
         0.5, 1.0, 1.0, 0.5, 1.0, 1.5, 0.5, 0, 1.0, 2.0, 1.5, 1.0, 2.0, 3.0, 1.5, 2.0, 3.0, 4.0, 3.0, 1.5,
         2.0, 2.5, 1.0, 0]
rr_04 = [0, 0, 0.5, 0, 0, 0, 0, 0, 0, 0.5, 2.0, 4.5, 2.0, 1.0, 1.0, 0.5, 0.5, 0.5, 1.0, 0.5,
         0.5, 1.5, 4.0, 2.0, 0, 1.5, 2.5, 2.0, 2.0, 2.0, 3.0, 1.0, 0.5, 0.5, 0, 0, 0.5, 0.5, 1.0, 0,
         0.5, 1.0, 1.5, 1.0, 1.0, 2.0, 0.5, 0, 0.5, 2.0, 1.0, 0.5, 1.0, 2.0, 1.0, 1.0, 2.0, 3.0, 2.0, 1.0,
         2.0, 5.0, 1.0, 0]
rr_05 = [0, 0.2, 1.0, 0.2, 0, 0, 0, 0, 0.2, 0.5, 2.0, 6.0, 3.0, 1.5, 1.5, 1.0, 0.5, 0.5, 1.0, 0.5,
         0.5, 2.0, 4.0, 2.0, 0.5, 2.0, 3.0, 2.5, 2.0, 2.0, 4.0, 1.0, 0.5, 0.5, 0.5, 0.5, 0.5, 0.5, 0.5, 0,
         0.5, 1.0, 1.5, 1.0, 1.0, 1.5, 0.5, 0, 1.0, 2.5, 1.5, 1.0, 1.0, 2.0, 1.0, 1.0, 2.0, 3.0, 2.0, 1.0,
         1.0, 1.5, 0.5, 0]
rr_06 = [0, 0, 0.5, 0, 0, 0, 0, 0, 0, 0.5, 1.5, 4.0, 2.0, 1.0, 1.0, 0.5, 0, 0.5, 0.5, 0.5,
         0.5, 1.5, 3.0, 2.0, 0, 1.5, 2.5, 3.0, 3.5, 4.0, 6.0, 15.0, 2.0, 0.5, 0, 0, 0.5, 0.5, 0.5, 0,
         0.5, 1.0, 1.0, 0.5, 1.0, 1.5, 0.5, 0, 1.0, 2.0, 1.5, 1.0, 1.5, 2.5, 1.0, 1.5, 2.5, 3.0, 2.5, 1.5,
         2.0, 2.0, 1.0, 0]
rr_07 = [0, 0.2, 1.0, 0.2, 0, 0, 0, 0, 0, 0.5, 2.0, 5.0, 2.5, 1.0, 1.5, 1.0, 0.5, 1.0, 1.5, 0.5,
         0.5, 2.0, 3.5, 2.0, 0, 1.5, 3.0, 4.0, 2.5, 2.0, 3.5, 1.5, 0.5, 0.5, 0.5, 0.5, 1.0, 1.0, 0.5, 0,
         0.5, 1.5, 1.5, 1.0, 1.0, 2.0, 1.0, 0, 1.0, 3.0, 2.0, 1.5, 1.5, 3.0, 1.5, 2.0, 3.5, 5.0, 4.0, 2.0,
         2.0, 2.5, 1.0, 0]
rr_08 = [0, 0, 0.5, 0, 0, 0, 0, 0, 0, 0.3, 1.5, 4.0, 2.0, 1.0, 1.0, 0.5, 0.5, 0.5, 1.0, 0.5,
         0.5, 1.5, 3.0, 1.5, 0, 1.0, 2.0, 2.0, 2.5, 3.0, 4.0, 1.0, 0.5, 0.5, 1.5, 3.0, 5.5, 2.0, 0.5, 0,
         0.5, 1.0, 1.0, 0.5, 1.0, 1.5, 0.5, 0, 0.5, 1.5, 1.0, 0.5, 1.0, 2.0, 1.0, 1.0, 2.0, 3.0, 2.0, 1.0,
         1.5, 2.0, 0.5, 0]
rr_09 = [0, 0, 0.5, 0, 0, 0, 0, 0.5, 3.1, 0.5, 2.0, 4.0, 7.0, 2.0, 1.0, 0.5, 0.5, 1.0, 4.3, 1.0,
         0.5, 1.5, 3.0, 2.0, 0, 2.0, 11.0, 3.0, 2.0, 1.5, 2.5, 1.0, 0.5, 0.5, 0, 0, 0.5, 0.5, 0.5, 0,
         0.5, 1.0, 1.5, 1.0, 2.0, 9.5, 8.8, 0.5, 1.0, 2.0, 1.5, 1.0, 2.0, 3.0, 12.4, 11.5, 3.0, 4.0, 3.0, 1.0,
         2.0, 2.0, 1.0, 0]
rr_10 = [0, 0, 1.0, 0, 0, 0.5, 0.5, 0, 0, 0.5, 1.5, 3.5, 1.5, 1.0, 1.0, 0.5, 0, 0.5, 0.5, 0.5,
         0.5, 1.5, 3.0, 1.5, 0, 1.0, 2.0, 2.0, 2.0, 2.5, 3.0, 1.0, 0.5, 0.5, 0, 0.5, 1.0, 5.0, 16.2, 5.0,
         1.0, 1.0, 1.5, 1.0, 1.0, 1.5, 0.5, 0, 1.0, 2.0, 1.0, 0.5, 1.0, 2.0, 1.0, 1.0, 2.0, 3.0, 2.0, 1.0,
         1.5, 1.5, 0.5, 0]
rr_11 = [0, 0, 0.5, 0, 0, 0, 0, 0, 0, 0.5, 1.0, 3.0, 1.5, 1.0, 1.0, 0.5, 0.5, 0.5, 0.5, 0.3,
         0.5, 1.0, 2.5, 1.5, 0, 1.0, 2.0, 2.5, 2.0, 3.0, 5.0, 7.4, 1.0, 0.5, 0, 0, 0.5, 0.5, 0.5, 0,
         0.5, 1.0, 1.0, 0.5, 1.0, 1.5, 0.5, 0, 0.5, 1.5, 1.0, 0.5, 1.0, 2.0, 1.0, 1.0, 1.5, 2.5, 3.0, 2.0,
         10.0, 4.0, 1.0, 0]
rr_12 = [0, 0.5, 4.0, 0.5, 0, 0.5, 0.5, 0, 0, 0.5, 2.0, 4.5, 2.0, 1.0, 1.0, 0.5, 0.5, 0.5, 1.0, 0.5,
         1.0, 2.5, 5.0, 7.4, 1.0, 1.5, 2.5, 2.0, 2.0, 2.0, 3.0, 1.0, 0.5, 0.5, 0, 0.5, 0.5, 0.5, 0.5, 0,
         0.5, 1.0, 1.0, 0.5, 1.0, 1.5, 0.5, 0, 1.0, 2.0, 1.5, 1.0, 1.5, 2.5, 1.0, 1.5, 2.5, 3.0, 2.0, 1.0,
         1.5, 2.0, 0.5, 0]
rr_13 = [0, 0.2, 0.5, 0, 0, 0, 0, 0, 0, 0.3, 1.5, 3.5, 1.5, 1.0, 1.0, 0.5, 0.5, 0.5, 0.5, 0.5,
         0.5, 1.5, 2.5, 1.5, 0, 1.0, 2.0, 2.0, 2.5, 2.5, 3.0, 1.0, 0.5, 0.5, 0, 0.5, 1.5, 1.0, 0.5, 0,
         0.5, 1.0, 1.0, 0.5, 1.0, 1.5, 0.5, 0, 0.5, 1.5, 1.0, 0.5, 1.0, 2.0, 1.0, 1.0, 2.0, 2.5, 2.0, 1.0,
         1.0, 1.5, 0.5, 0]
rr_14 = [0, 0, 0.5, 0, 0, 0, 0, 0, 0, 0.5, 2.0, 4.0, 2.0, 1.0, 1.0, 0.5, 0.5, 0.5, 1.0, 0.5,
         0.5, 1.5, 3.0, 1.5, 0, 1.5, 5.0, 12.9, 4.0, 2.0, 3.0, 1.0, 0.5, 0.5, 0, 0.5, 0.5, 0.5, 0.5, 0,
         1.0, 5.0, 16.7, 3.0, 1.0, 1.5, 0.5, 0, 1.0, 2.0, 1.5, 1.0, 1.5, 3.0, 1.5, 1.5, 2.5, 3.5, 2.5, 1.0,
         1.5, 2.0, 0.5, 0]
rr_15 = [0, 0, 0.5, 0, 0, 0, 0, 0, 0, 0.5, 1.5, 4.0, 2.0, 1.0, 1.0, 0.5, 0.5, 0.5, 1.0, 0.5,
         0.5, 1.5, 3.0, 2.0, 0, 1.5, 2.5, 3.0, 2.5, 2.5, 3.5, 1.0, 0.5, 0.5, 0, 0.5, 0.5, 0.5, 0.5, 0,
         0.5, 1.0, 1.5, 1.0, 1.0, 2.0, 0.5, 0, 1.0, 2.0, 1.5, 1.0, 1.5, 2.5, 1.5, 2.0, 3.0, 4.0, 5.0, 9.0,
         4.0, 2.0, 1.0, 0]
rr_16 = [0, 0, 0.5, 0, 0, 0, 0, 0, 0, 1.0, 4.0, 23.5, 5.0, 1.5, 1.0, 0.5, 0.5, 0.5, 1.0, 0.5,
         0.5, 2.0, 6.9, 2.0, 0, 1.5, 3.0, 5.0, 17.9, 4.0, 3.0, 1.0, 0.5, 0.5, 0, 0.5, 0.5, 0.5, 0.5, 0,
         0.5, 1.0, 1.0, 0.5, 1.0, 1.5, 0.5, 0, 1.0, 2.0, 1.0, 0.5, 1.0, 2.0, 1.0, 1.0, 2.0, 3.0, 2.0, 1.0,
         1.5, 2.0, 0.5, 0]
rr_17 = [0, 0, 0.5, 0, 0, 0, 0, 0, 0, 0.3, 1.5, 3.5, 1.5, 1.0, 1.0, 0.5, 0.5, 0.5, 0.5, 0.5,
         0.5, 1.5, 2.5, 1.5, 0, 1.0, 2.0, 2.0, 2.0, 2.5, 3.0, 1.0, 0.5, 0.5, 0, 0.5, 0.5, 0.5, 0.5, 0.5,
         6.0, 10.8, 4.0, 1.0, 1.0, 1.5, 0.5, 0, 1.0, 1.5, 1.0, 0.5, 1.0, 2.0, 4.0, 13.2, 13.2, 3.0, 2.0, 1.0,
         1.5, 2.0, 0.5, 0]
rr_18 = [0, 0.5, 3.1, 0.5, 0, 0, 0, 0, 0, 0.5, 2.0, 4.0, 2.0, 1.0, 1.0, 0.5, 0.5, 0.5, 4.0, 1.0,
         0.5, 4.0, 13.6, 3.0, 0, 1.0, 2.5, 2.0, 2.0, 2.5, 3.0, 1.0, 0.5, 0.5, 0, 0.5, 0.5, 0.5, 0.5, 0,
         0.5, 1.0, 1.5, 3.0, 7.5, 2.0, 0.5, 0, 1.0, 2.0, 1.0, 0.5, 1.0, 2.0, 1.0, 1.0, 2.0, 3.0, 2.0, 1.0,
         1.5, 2.0, 0.5, 0]
rr_19 = [0, 0, 0.5, 0, 0, 0, 0, 0, 0, 0.5, 2.0, 4.0, 2.0, 1.0, 1.0, 0.5, 0.5, 0.5, 1.0, 0.5,
         0.5, 1.5, 3.0, 2.0, 0, 1.5, 2.5, 2.0, 2.5, 2.5, 3.0, 1.0, 0.5, 0.5, 0, 0.5, 0.5, 0.5, 0.5, 0,
         0.5, 1.0, 1.5, 2.0, 3.0, 8.1, 1.5, 0, 1.0, 2.0, 1.5, 1.0, 1.5, 2.5, 1.0, 1.5, 2.5, 3.0, 2.0, 1.0,
         1.5, 2.0, 0.5, 0]
rr_20 = [0, 0, 0.5, 0, 0, 0, 0, 0, 0, 0.5, 2.0, 5.0, 6.0, 11.8, 7.0, 2.0, 0.5, 0.5, 1.0, 0.5,
         0.5, 1.5, 3.0, 2.0, 0, 2.0, 8.1, 3.0, 2.0, 2.0, 3.0, 1.0, 0.5, 0.5, 0, 0.5, 0.5, 0.5, 0.5, 0,
         0.5, 1.0, 1.0, 0.5, 1.0, 1.5, 0.5, 0, 1.0, 2.0, 1.0, 0.5, 1.0, 2.0, 1.0, 1.0, 2.0, 8.0, 28.8, 5.0,
         2.0, 2.0, 0.5, 0]
rr_21 = [0, 0, 0.5, 0, 0, 0, 0, 0, 0, 0.5, 2.0, 8.8, 2.0, 1.0, 1.0, 0.5, 0.5, 0.5, 1.0, 0.5,
         0.5, 1.5, 3.0, 1.5, 0, 1.5, 2.5, 2.0, 2.0, 2.5, 3.0, 1.0, 2.0, 8.8, 1.0, 0.5, 0.5, 0.5, 0.5, 0,
         0.5, 1.0, 1.0, 0.5, 1.0, 1.5, 0.5, 0.5, 3.0, 31.0, 3.0, 1.0, 1.0, 2.0, 1.0, 1.0, 2.0, 3.0, 2.0, 1.0,
         1.5, 2.0, 0.5, 0]
rr_22 = [0, 0, 0.5, 0, 0, 0, 0, 0, 0, 0.5, 1.5, 3.5, 1.5, 1.0, 1.0, 0.5, 0.5, 0.5, 1.0, 0.5,
         0.5, 1.5, 2.5, 1.5, 0, 1.0, 2.0, 2.5, 2.0, 2.0, 3.0, 1.0, 0.5, 0.5, 0, 0.5, 0.5, 0.5, 0.5, 0,
         0.5, 1.0, 1.0, 0.5, 1.0, 1.5, 0.5, 0, 0.5, 1.5, 1.0, 0.5, 1.0, 2.0, 1.0, 1.5, 2.5, 3.0, 4.0, 8.0,
         12.4, 3.0, 1.0, 0]
rr_23 = [0, 0, 0.5, 0, 0, 0, 0, 0, 0, 0.5, 1.5, 3.5, 2.0, 1.0, 1.0, 0.5, 0.5, 0.5, 1.0, 0.5,
         0.5, 1.5, 3.0, 1.5, 0, 1.5, 2.0, 2.0, 2.5, 2.5, 3.0, 1.0, 0.5, 0.5, 0, 0.5, 0.5, 0.5, 0.5, 0,
         0.5, 1.0, 1.0, 0.5, 1.0, 1.5, 0.5, 0, 1.0, 2.0, 1.0, 0.5, 1.0, 2.0, 1.0, 1.0, 3.0, 10.0, 27.4, 4.0,
         1.5, 2.0, 0.5, 0]
rr_24 = [0, 0, 0.5, 0, 0, 0, 0, 0, 0, 0.3, 1.5, 3.0, 1.5, 1.0, 1.0, 0.5, 0.5, 0.5, 0.5, 0.5,
         0.5, 1.5, 2.5, 1.5, 0, 1.0, 2.0, 2.0, 2.0, 2.5, 3.0, 1.0, 0.5, 0.5, 0, 0.5, 0.5, 0.5, 0.5, 0,
         0.5, 1.0, 1.0, 0.5, 1.0, 1.5, 0.5, 0, 0.5, 1.5, 1.0, 0.5, 1.0, 2.0, 1.0, 1.0, 2.0, 2.5, 2.0, 1.0,
         1.5, 2.0, 0.5, 0]
rr_25 = [0, 0, 0.5, 0, 0, 0, 0, 0, 0, 0.5, 2.0, 4.0, 2.0, 1.0, 1.0, 0.5, 0.5, 0.5, 1.0, 0.5,
         0.5, 1.5, 3.0, 2.0, 0, 1.5, 2.5, 2.0, 2.5, 2.5, 3.0, 1.0, 0.5, 0.5, 0, 0.5, 0.5, 0.5, 0.5, 0,
         0.5, 1.0, 1.0, 0.5, 1.0, 1.5, 0.5, 0, 1.0, 2.0, 1.5, 5.0, 16.0, 5.0, 1.0, 1.5, 2.5, 3.0, 2.0, 1.0,
         1.5, 2.0, 0.5, 0]
rr_26 = [0, 0, 0.5, 0, 0, 0, 0, 0, 0, 0.3, 1.5, 3.5, 1.5, 1.0, 1.0, 0.5, 0.5, 0.5, 0.5, 0.5,
         0.5, 1.5, 2.5, 1.5, 0, 1.0, 2.0, 2.0, 2.0, 2.5, 3.0, 1.0, 0.5, 0.5, 0, 0.5, 0.5, 0.5, 0.5, 0,
         0.5, 1.0, 9.8, 11.0, 2.0, 1.5, 0.5, 0, 1.0, 2.0, 1.0, 1.0, 3.0, 11.0, 3.0, 1.0, 2.0, 3.0, 2.0, 1.0,
         1.5, 2.0, 0.5, 0]
rr_27 = [0, 0, 0.5, 0, 0, 0, 0, 0, 0, 0.5, 2.0, 4.0, 2.0, 1.0, 1.0, 0.5, 0.5, 0.5, 1.0, 0.5,
         0.5, 1.5, 3.0, 2.0, 0, 1.5, 2.5, 2.5, 3.0, 4.0, 7.9, 1.5, 0.5, 0.5, 0, 0.5, 0.5, 0.5, 0.5, 0,
         0.5, 1.0, 1.0, 0.5, 1.0, 1.5, 0.5, 0, 1.0, 2.0, 1.0, 0.5, 1.0, 2.0, 1.0, 1.0, 4.0, 24.4, 6.0, 2.0,
         2.0, 2.0, 0.5, 0]
rr_28 = [0, 0, 0.5, 0, 0, 0, 0, 0, 0, 0.5, 3.0, 11.9, 3.0, 1.0, 1.0, 0.5, 0.5, 0.5, 1.0, 0.5,
         0.5, 1.5, 3.0, 2.0, 0, 1.5, 2.0, 2.5, 3.0, 6.9, 20.5, 3.0, 0.5, 0.5, 0, 0.5, 0.5, 0.5, 0.5, 0,
         0.5, 1.0, 1.0, 0.5, 1.0, 1.5, 0.5, 0, 1.0, 2.0, 1.0, 0.5, 1.0, 2.0, 1.0, 1.0, 2.0, 3.0, 2.0, 1.0,
         1.5, 2.0, 0.5, 0]
rr_29 = [0, 0, 0.5, 0, 0, 0, 0, 0, 0, 1.0, 6.0, 4.0, 2.0, 1.0, 1.0, 0.5, 0.5, 0.5, 1.0, 0.5,
         1.0, 5.5, 3.0, 2.0, 0, 1.5, 3.0, 6.0, 25.2, 5.0, 3.0, 1.0, 0.5, 0.5, 0, 0.5, 0.5, 0.5, 0.5, 0,
         0.5, 1.0, 1.0, 0.5, 1.0, 1.5, 0.5, 0, 4.0, 11.0, 3.0, 0.5, 1.0, 2.0, 1.0, 1.0, 2.0, 3.0, 2.0, 1.0,
         1.5, 2.0, 0.5, 0]
rr_30 = [0, 0, 0.5, 0, 0, 0, 0, 0, 0, 0.5, 2.0, 5.0, 11.0, 3.0, 1.0, 0.5, 0.5, 0.5, 1.0, 0.5,
         0.5, 1.5, 3.0, 2.0, 0, 1.5, 2.5, 2.0, 2.5, 2.5, 3.0, 1.0, 0.5, 0.5, 0, 0.5, 0.5, 0.5, 0.5, 0,
         0.5, 1.0, 1.0, 0.5, 1.0, 1.5, 0.5, 0, 1.0, 2.0, 1.0, 0.5, 1.0, 2.0, 1.0, 2.0, 6.0, 24.0, 5.0, 1.0,
         1.5, 2.0, 0.5, 0]

t850_members = [t850_01, t850_02, t850_03, t850_04, t850_05, t850_06, t850_07, t850_08, t850_09, t850_10,
                t850_11, t850_12, t850_13, t850_14, t850_15, t850_16, t850_17, t850_18, t850_19, t850_20,
                t850_21, t850_22, t850_23, t850_24, t850_25, t850_26, t850_27, t850_28, t850_29, t850_30]
t500_members = [t500_01, t500_02, t500_03, t500_04, t500_05, t500_06, t500_07, t500_08, t500_09, t500_10,
                t500_11, t500_12, t500_13, t500_14, t500_15, t500_16, t500_17, t500_18, t500_19, t500_20,
                t500_21, t500_22, t500_23, t500_24, t500_25, t500_26, t500_27, t500_28, t500_29, t500_30]
rr_members = [rr_01, rr_02, rr_03, rr_04, rr_05, rr_06, rr_07, rr_08, rr_09, rr_10,
              rr_11, rr_12, rr_13, rr_14, rr_15, rr_16, rr_17, rr_18, rr_19, rr_20,
              rr_21, rr_22, rr_23, rr_24, rr_25, rr_26, rr_27, rr_28, rr_29, rr_30]

hours = [6 * i for i in range(65)]
hours_rr = hours[1:]

# The page puts the figure 8px in from the top-left corner, so the figure is
# 8px smaller and its plot area sits at page x 50..690, page y 8..600.
# y axis: 7 px per unit, -45..30 for temperatures, right axis = left + 45
Y_LO, Y_HI = -52.64, 31.93
FONT = "DejaVu Sans Mono"
GRID = "#c0c0c0"
FLAKE = "#8cc8f0"

fig = go.Figure()

for k in range(30):
    c = member_colors[k]
    style = dict(mode="lines+markers", line=dict(color=c, width=1),
                 marker=dict(symbol="cross-thin", size=4, line=dict(color=c, width=1)),
                 hoverinfo="skip")
    fig.add_trace(go.Scatter(x=hours, y=t850_members[k], **style))
    fig.add_trace(go.Scatter(x=hours, y=t500_members[k], **style))
    fig.add_trace(go.Scatter(x=hours_rr, y=rr_members[k], yaxis="y2", **style))

for xs, ys, ax, c, w in [(hours, t850_gfs, "y", "black", 3), (hours, t500_gfs, "y", "black", 3),
                         (hours, t850_ctrl, "y", "#0000ff", 3), (hours, t500_ctrl, "y", "#0000ff", 3),
                         (hours, t850_mean, "y", "#ff0000", 4.5), (hours, t500_mean, "y", "#ff0000", 4.5),
                         (hours_rr, rr_gfs, "y2", "black", 3), (hours_rr, rr_ctrl, "y2", "#0000ff", 3),
                         (hours_rr, rr_mean, "y2", "#ff0000", 4.5)]:
    fig.add_trace(go.Scatter(x=xs, y=ys, yaxis=ax, mode="lines", line=dict(color=c, width=w), hoverinfo="skip"))

# snow risk
snow_h = [6 * s for s in snow_steps]
fig.add_trace(go.Scatter(x=snow_h, y=[-50.97] * len(snow_h), mode="markers",
                         marker=dict(symbol="circle", size=11, color=FLAKE), hoverinfo="skip"))
fig.add_trace(go.Scatter(x=snow_h, y=[-50.97] * len(snow_h), mode="markers",
                         marker=dict(symbol="asterisk-open", size=8, line=dict(color="white", width=1)),
                         hoverinfo="skip"))
for h, p in zip(snow_h, snow_pct):
    fig.add_annotation(x=h, y=-49.9, xref="x", yref="y", text=p, showarrow=False, textangle=-90,
                       yanchor="bottom", borderpad=0, font=dict(family=FONT, size=8, color="#0000ff"))

shapes = []
# horizontal grid
for v in range(-45, 31, 5):
    if v == 0:
        continue
    shapes.append(dict(type="line", xref="paper", yref="y", x0=0, x1=1, y0=v, y1=v, layer="below",
                       line=dict(color=GRID, width=2 if v % 10 == 0 else 1)))
shapes.append(dict(type="line", xref="paper", yref="y", x0=0, x1=1, y0=0, y1=0, layer="below",
                   line=dict(color="#a8a8a8", width=3.5)))
shapes.append(dict(type="line", xref="paper", yref="y", x0=0, x1=1, y0=0, y1=0, layer="below",
                   line=dict(color="#e8e8e8", width=1)))
# vertical grid, one per day
for h in range(0, 385, 24):
    shapes.append(dict(type="line", xref="x", yref="paper", x0=h, x1=h, y0=0, y1=1, layer="below",
                       line=dict(color=GRID, width=1)))
# light band behind snow labels
shapes.append(dict(type="rect", xref="x", yref="y", x0=333, x1=381.6, y0=-50.4, y1=-49.6, layer="below",
                   fillcolor="#c8f8ff", line=dict(width=0)))
shapes.append(dict(type="rect", xref="x", yref="y", x0=279, x1=285, y0=-50.4, y1=-49.6, layer="below",
                   fillcolor="#c8f8ff", line=dict(width=0)))


# page pixel -> paper coordinates
def px(x):
    return (x - 50) / 640


def py(y):
    return (600 - y) / 592


def note(x, y, text, size=10, anchor="left", color="black"):
    fig.add_annotation(x=px(x), y=py(y), xref="paper", yref="paper", text=text, showarrow=False,
                       xanchor=anchor, yanchor="middle", borderpad=0,
                       font=dict(family=FONT, size=size, color=color))


def bar(x0, x1, y, color, w):
    shapes.append(dict(type="line", xref="paper", yref="paper", x0=px(x0), x1=px(x1), y0=py(y), y1=py(y),
                       line=dict(color=color, width=w)))


note(59, 62, "Temp. 850hPa")
note(59, 272, "Temp. 500hPa")
note(59, 509, "Précipitations")
note(44, 607, "(°c)", anchor="right")
note(8, 623, "Alt. 1885m")
note(707, 607, "(mm)")

bar(35, 65, 637, "#ff0000", 4)
note(74, 637, "Moyenne des scénarios")
bar(225, 256, 637.5, "#0000ff", 3)
note(264, 637, "Run de contrôle")
bar(225, 256, 647, "black", 3)
note(264, 647, "Run GFS")
note(339, 652, "30 Perts.")

# snow flake legend icon
shapes.append(dict(type="circle", xref="paper", yref="paper", x0=px(55), x1=px(65), y0=py(663), y1=py(653),
                   fillcolor=FLAKE, line=dict(width=0)))
bar(56, 64, 658, "white", 1)
shapes.append(dict(type="line", xref="paper", yref="paper", x0=px(57.5), x1=px(62.5), y0=py(654.5),
                   y1=py(661.5), line=dict(color="white", width=1)))
shapes.append(dict(type="line", xref="paper", yref="paper", x0=px(57.5), x1=px(62.5), y0=py(661.5),
                   y1=py(654.5), line=dict(color="white", width=1)))
note(74, 659, "Risque neige")

for k in range(30):
    x0 = 400 + 11.03 * k
    note(x0 + 5, 643, "<b>%02d</b>" % (k + 1), size=7.5, anchor="center")
    shapes.append(dict(type="rect", xref="paper", yref="paper", x0=px(x0), x1=px(x0 + 10),
                       y0=py(656.5), y1=py(650), fillcolor=member_colors[k], line=dict(width=0)))

shapes.append(dict(type="rect", xref="paper", yref="paper", x0=px(20), x1=px(440), y0=py(699.3), y1=py(667),
                   line=dict(color="black", width=1.5)))
note(29, 677, "<b>Diagramme des ensembles GEFS sur 384h : 47N 11.5E</b>", size=11.3)
note(29, 692, "Températures 850hPa et 500hPa (°C) , précipitations (mm)")
note(449, 675, "Ensemble GEFS du 26/08/2026 - 00Z")
note(449, 692, "<b>Copyright 2026 Meteociel.fr</b>", size=11.3)

fig.update_layout(
    width=732, height=692,
    margin=dict(l=42, r=50, t=0, b=100),
    paper_bgcolor="white", plot_bgcolor="white",
    showlegend=False,
    font=dict(family=FONT, size=10, color="black"),
    shapes=shapes,
    xaxis=dict(range=[0, 384], tickvals=list(range(0, 385, 24)), ticktext=dates, tickangle=-90,
               showgrid=False, zeroline=False, showline=True, linecolor="black", linewidth=1.5,
               ticks="", ticklabelshift=5, automargin=False, tickfont=dict(family=FONT, size=10)),
    yaxis=dict(range=[Y_LO, Y_HI], tickvals=list(range(-45, 31, 5)),
               ticktext=[str(v) for v in range(-45, 31, 5)], showgrid=False, zeroline=False,
               ticks="", ticklabelstandoff=16, automargin=False, tickfont=dict(family=FONT, size=10)),
    yaxis2=dict(range=[Y_LO + 45, Y_HI + 45], overlaying="y", side="right", tickvals=list(range(0, 76, 5)),
                ticktext=[str(v) for v in range(0, 76, 5)], showgrid=False, zeroline=False,
                ticks="", ticklabelstandoff=16, automargin=False, tickfont=dict(family=FONT, size=10)),
)

fig.write_html("out.html")
